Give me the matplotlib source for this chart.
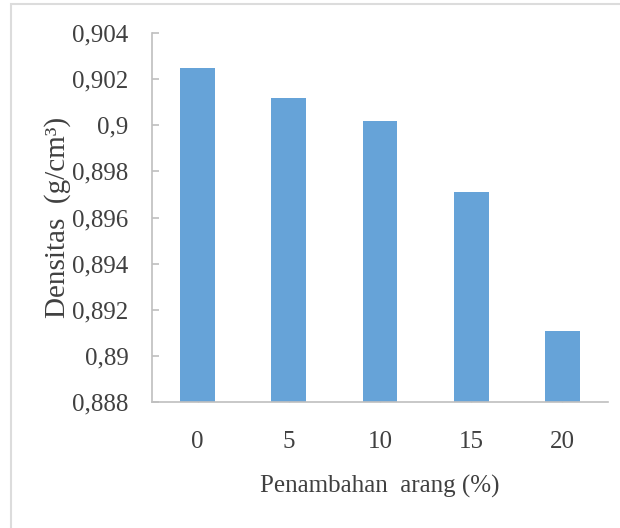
import matplotlib
matplotlib.use('Agg')
import matplotlib.pyplot as plt
from matplotlib.ticker import FuncFormatter, MultipleLocator
from matplotlib.patches import Rectangle

categories = ['0', '5', '10', '15', '20']
density = [0.9025, 0.9012, 0.9002, 0.8971, 0.8911]
y_min, y_max, y_step = 0.888, 0.904, 0.002

plt.rcParams['font.family'] = ['Liberation Serif', 'DejaVu Serif']

text_color = '#404040'
axis_color = '#bfbfbf'
bar_color = '#66a3d8'

fig = plt.figure(figsize=(6.2, 5.28), dpi=100)
ax = fig.add_axes([152 / 620, 1 - 402 / 528, 456 / 620, 369 / 528])

# light frame around the picture (only top and left edges visible)
fig.patches.append(Rectangle((11 / 620, -0.05), 1.1, 0.05 + 524 / 528,
                             transform=fig.transFigure, fill=False,
                             edgecolor='#dcdcdc', linewidth=1.5))

x = range(len(categories))
ax.bar(x, density, width=0.38, color=bar_color, zorder=2)

ax.set_xlim(-0.5, len(categories) - 0.5)
ax.set_ylim(y_min, y_max)
ax.yaxis.set_major_locator(MultipleLocator(y_step))
ax.yaxis.set_major_formatter(FuncFormatter(lambda v, p: f'{round(v, 3):g}'.replace('.', ',')))
ax.set_xticks(list(x))
ax.set_xticklabels(categories)

for s in ['top', 'right']:
    ax.spines[s].set_visible(False)
for s in ['left', 'bottom']:
    ax.spines[s].set_color(axis_color)
    ax.spines[s].set_linewidth(1.2)

ax.tick_params(axis='y', direction='in', length=5, width=1.2, color=axis_color,
               labelcolor=text_color, labelsize=18, pad=17)
ax.tick_params(axis='x', direction='in', length=4, width=1.0, color=axis_color,
               labelcolor=text_color, labelsize=18, pad=21)

ax.set_xlabel('Penambahan  arang (%)', fontsize=18, color=text_color, labelpad=16)
ax.set_ylabel('Densitas  (g/cm³)', fontsize=21, color=text_color, labelpad=1)

fig.savefig('out.png', dpi=100, facecolor='white')
